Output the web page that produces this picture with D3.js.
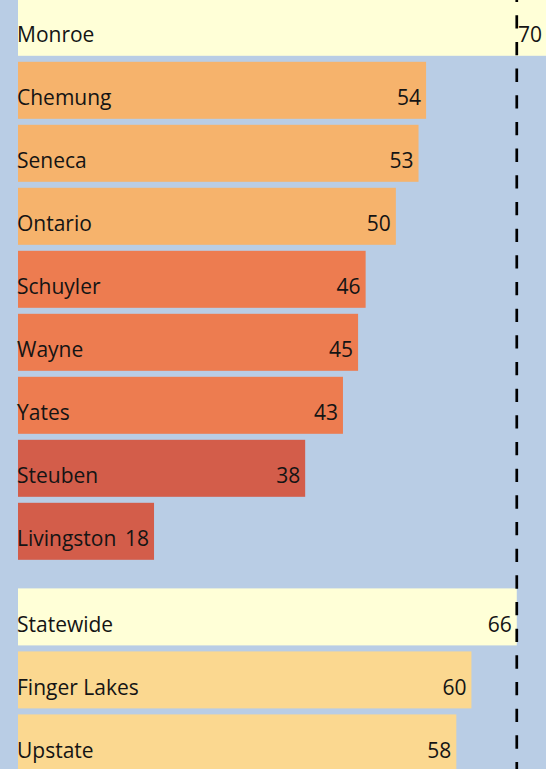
<!DOCTYPE html>
<html>
<head>
<meta charset="utf-8">
<script src="https://cdn.jsdelivr.net/npm/d3@7"></script>
<style>
  html, body { margin: 0; padding: 0; background: #b9cde5; }
  svg { display: block; }
  text { font-family: "Open Sans", "Noto Sans", sans-serif; font-size: 21px; fill: #141414; }
</style>
</head>
<body>
<svg id="chart"></svg>
<script>
// County rows, then the regional comparison rows
const counties = ["Monroe", "Chemung", "Seneca", "Ontario", "Schuyler", "Wayne", "Yates", "Steuben", "Livingston"];
const countyValues = [70, 54, 53, 50, 46, 45, 43, 38, 18];
const countyTiers = ["benchmark", "high", "high", "high", "middle", "middle", "middle", "low", "low"];

const regions = ["Statewide", "Finger Lakes", "Upstate"];
const regionValues = [66, 60, 58];
const regionTiers = ["benchmark", "region", "region"];

// Reference value drawn as the dashed line
const referenceValue = 66;

const tierNames = ["benchmark", "high", "middle", "low", "region"];
const tierColors = ["#ffffd7", "#f6b36c", "#ed7c50", "#d35d4a", "#fbd890"];

const W = 546, H = 769;
const svg = d3.select("#chart").attr("width", W).attr("height", H);

svg.append("rect").attr("width", W).attr("height", H).attr("fill", "#b9cde5");

const rows = counties.map((name, i) => ({ name, value: countyValues[i], tier: countyTiers[i], group: 0 }))
  .concat(regions.map((name, i) => ({ name, value: regionValues[i], tier: regionTiers[i], group: 1 })));

const x = d3.scaleLinear().domain([0, 70]).range([18, 547]);

const rowStep = 63, rowPad = 6 / 63, firstRowY = -1.2, groupGap = 22.6;
const y = d3.scaleBand()
  .domain(rows.map(d => d.name))
  .range([firstRowY - rowPad * rowStep / 2, firstRowY - rowPad * rowStep / 2 + rows.length * rowStep])
  .paddingInner(rowPad)
  .paddingOuter(rowPad / 2);

const rowY = d => y(d.name) + d.group * groupGap;

const color = d3.scaleOrdinal().domain(tierNames).range(tierColors);

const g = svg.selectAll("g.row").data(rows).join("g").attr("class", "row");

g.append("rect")
  .attr("x", x(0))
  .attr("y", rowY)
  .attr("width", d => x(d.value) - x(0))
  .attr("height", y.bandwidth())
  .attr("fill", d => color(d.tier));

g.append("text")
  .attr("x", x(0) - 1)
  .attr("y", d => rowY(d) + y.bandwidth() / 2 + 15)
  .text(d => d.name);

g.append("text")
  .attr("x", d => x(d.value) - 5)
  .attr("y", d => rowY(d) + y.bandwidth() / 2 + 15)
  .attr("text-anchor", "end")
  .text(d => d.value);

// Dashed reference line over the bars
svg.append("line")
  .attr("x1", x(referenceValue)).attr("x2", x(referenceValue))
  .attr("y1", 0).attr("y2", H)
  .attr("stroke", "#000")
  .attr("stroke-width", 2.7)
  .attr("stroke-dasharray", "13.3,13.37")
  .attr("stroke-dashoffset", 11.4);
</script>
</body>
</html>
